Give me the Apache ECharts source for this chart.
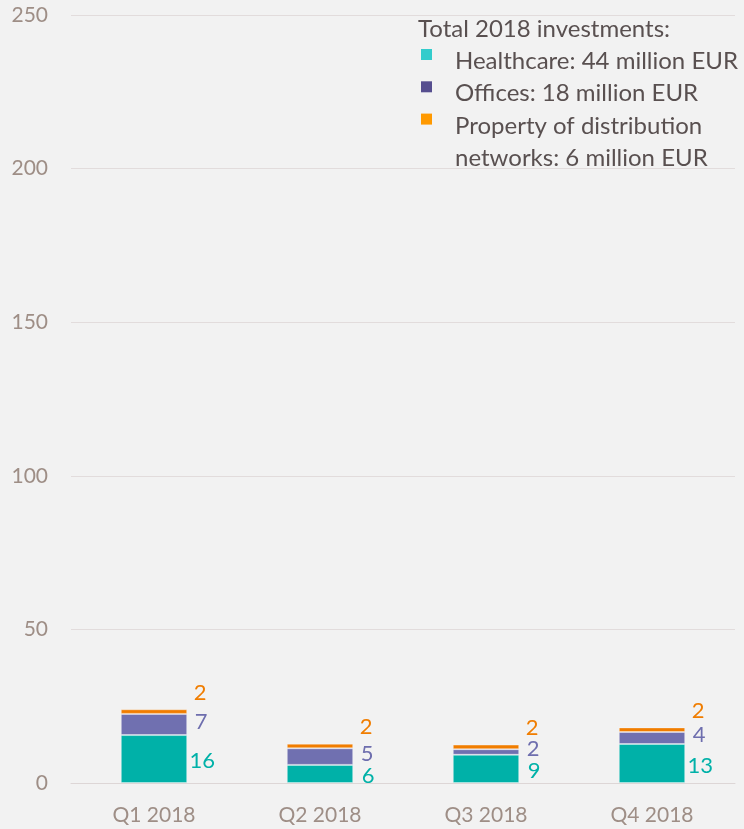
<!DOCTYPE html>
<html><head><meta charset="utf-8">
<script src="https://cdn.jsdelivr.net/npm/echarts@6/dist/echarts.min.js"></script>
<style>html,body{margin:0;padding:0;background:#f2f2f2}#c{width:744px;height:829px}</style>
</head><body><div id="c"></div>
<script>
const categories = ['Q1 2018', 'Q2 2018', 'Q3 2018', 'Q4 2018'];
const seriesNames = ['Healthcare', 'Offices', 'Property of distribution networks'];
const healthcare = [15.6, 5.9, 9.2, 12.7];
const offices = [6.9, 5.4, 1.8, 3.9];
const property = [1.5, 1.5, 1.5, 1.5];
const legendTitle = 'Total 2018 investments:';
const legendLabels = ['Healthcare: 44 million EUR', 'Offices: 18 million EUR', 'Property of distribution\nnetworks: 6 million EUR'];
const yTicks = [0, 50, 100, 150, 200, 250];

const FONT = 'Lato';
const barColors = ['#00b1a8', '#7070b0', '#f07d00'];
const labelColors = ['#00b1a8', '#6e6eae', '#f07d00'];
const legendColors = ['#33cccc', '#564e8f', '#ff9900'];
const labelDist = [15, 14, 13];
const labelOffY = [2, -3, -19];
const LH = 32.3;

const chart = echarts.init(document.getElementById('c'), null, {renderer: 'canvas'});
const allData = [healthcare, offices, property];

const series = allData.map((d, i) => ({
  name: seriesNames[i],
  type: 'bar',
  stack: 'total',
  barWidth: '40%',
  data: d,
  itemStyle: {color: barColors[i], borderColor: 'rgba(255,255,255,0.35)', borderWidth: 1},
  label: {
    show: true, position: 'right', distance: labelDist[i], align: 'center',
    offset: [0, labelOffY[i]],
    color: labelColors[i], fontFamily: FONT, fontSize: 22,
    formatter: p => String(Math.round(p.value))
  },
  emphasis: {disabled: true}
}));

const legendChildren = [{
  type: 'text', x: 0, y: 0,
  style: {text: legendTitle, fontFamily: FONT, fontSize: 24, fill: '#595050', lineHeight: LH}
}];
legendLabels.forEach((t, i) => {
  legendChildren.push({
    type: 'rect', shape: {x: 3, y: 36 + i * LH, width: 11, height: 11},
    style: {fill: legendColors[i]}
  });
  legendChildren.push({
    type: 'text', x: 37, y: (i + 1) * LH,
    style: {text: t, fontFamily: FONT, fontSize: 24, fill: '#595050', lineHeight: LH}
  });
});

chart.setOption({
  backgroundColor: '#f2f2f2',
  animation: false,
  grid: {left: 71, right: 9, top: 15, bottom: 46},
  xAxis: {
    type: 'category', data: categories,
    axisLine: {lineStyle: {color: '#ddd6d6'}},
    axisTick: {show: false},
    axisLabel: {color: '#9e8e86', fontFamily: FONT, fontSize: 21, margin: 22}
  },
  yAxis: {
    type: 'value', min: yTicks[0], max: yTicks[yTicks.length - 1], interval: 50,
    axisLine: {show: false}, axisTick: {show: false},
    splitLine: {lineStyle: {color: '#e2dcdc'}},
    axisLabel: {color: '#9e8e86', fontFamily: FONT, fontSize: 21, margin: 23}
  },
  graphic: [{type: 'group', x: 418, y: 13, children: legendChildren}],
  series: series
});
</script></body></html>
